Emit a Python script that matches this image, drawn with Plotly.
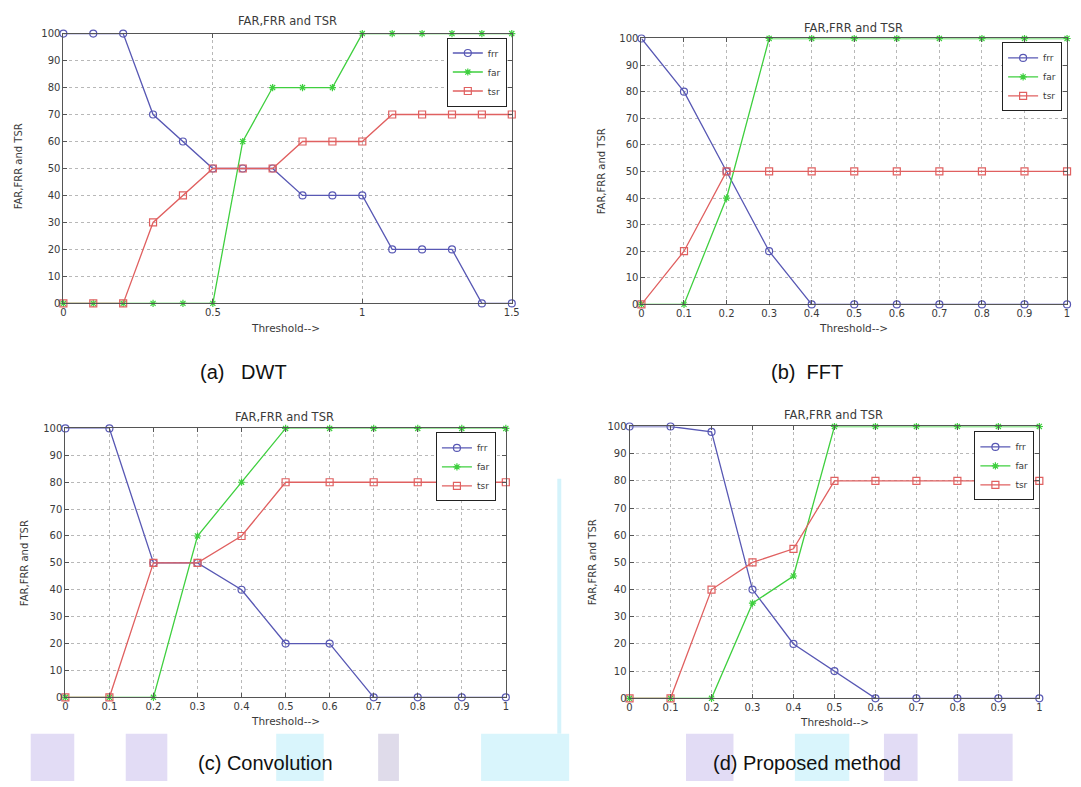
import plotly.graph_objects as go

W, H = 1081, 787

# ---------------- data ----------------
thr_dwt = [0, 0.1, 0.2, 0.3, 0.4, 0.5, 0.6, 0.7, 0.8, 0.9, 1.0, 1.1, 1.2, 1.3, 1.4, 1.5]
dwt_frr = [100, 100, 100, 70, 60, 50, 50, 50, 40, 40, 40, 20, 20, 20, 0, 0]
dwt_far = [0, 0, 0, 0, 0, 0, 60, 80, 80, 80, 100, 100, 100, 100, 100, 100]
dwt_tsr = [0, 0, 0, 30, 40, 50, 50, 50, 60, 60, 60, 70, 70, 70, 70, 70]

thr_unit = [0, 0.1, 0.2, 0.3, 0.4, 0.5, 0.6, 0.7, 0.8, 0.9, 1.0]
fft_frr = [100, 80, 50, 20, 0, 0, 0, 0, 0, 0, 0]
fft_far = [0, 0, 40, 100, 100, 100, 100, 100, 100, 100, 100]
fft_tsr = [0, 20, 50, 50, 50, 50, 50, 50, 50, 50, 50]

conv_frr = [100, 100, 50, 50, 40, 20, 20, 0, 0, 0, 0]
conv_far = [0, 0, 0, 60, 80, 100, 100, 100, 100, 100, 100]
conv_tsr = [0, 0, 50, 50, 60, 80, 80, 80, 80, 80, 80]

prop_frr = [100, 100, 98, 40, 20, 10, 0, 0, 0, 0, 0]
prop_far = [0, 0, 0, 35, 45, 100, 100, 100, 100, 100, 100]
prop_tsr = [0, 0, 40, 50, 55, 80, 80, 80, 80, 80, 80]

xt_dwt = [0, 0.5, 1, 1.5]
xt_dwt_text = ["0", "0.5", "1", "1.5"]
xt_unit = [0, 0.1, 0.2, 0.3, 0.4, 0.5, 0.6, 0.7, 0.8, 0.9, 1]
xt_unit_text = ["0", "0.1", "0.2", "0.3", "0.4", "0.5", "0.6", "0.7", "0.8", "0.9", "1"]
yt = [0, 10, 20, 30, 40, 50, 60, 70, 80, 90, 100]
yt_text = ["0", "10", "20", "30", "40", "50", "60", "70", "80", "90", "100"]

series_names = ["frr", "far", "tsr"]
plot_title = "FAR,FRR and TSR"
y_label = "FAR,FRR and TSR"
x_label = "Threshold-->"
captions = ["(a)   DWT", "(b)  FFT", "(c) Convolution", "(d) Proposed method"]

# ---------------- styling ----------------
BLUE = "#5858b4"
GREEN = "#3fcf3f"
RED = "#e06060"
TXT = "#3a3a3a"
FONT = "DejaVu Sans"

# panel boxes in pixels: left, right, top, bottom
panels = [
    dict(box=(61, 514, 28, 302), x=thr_dwt, ys=(dwt_frr, dwt_far, dwt_tsr), xr=[0, 1.5],
         xt=xt_dwt, xtt=xt_dwt_text, leg=(509, 32), title=(287, 15), ylab=(16, 163),
         xlab=(285, 327), cap=(243, 372)),
    dict(box=(645, 1075, 33, 303), x=thr_unit, ys=(fft_frr, fft_far, fft_tsr), xr=[0, 1],
         xt=xt_unit, xtt=xt_unit_text, leg=(1070, 37), title=(859, 22), ylab=(605, 168),
         xlab=(859, 327), cap=(812, 372)),
    dict(box=(63, 508, 429, 702), x=thr_unit, ys=(conv_frr, conv_far, conv_tsr), xr=[0, 1],
         xt=xt_unit, xtt=xt_unit_text, leg=(498, 433), title=(284, 417), ylab=(22, 566),
         xlab=(285, 726), cap=(265, 769)),
    dict(box=(633, 1047, 427, 703), x=thr_unit, ys=(prop_frr, prop_far, prop_tsr), xr=[0, 1],
         xt=xt_unit, xtt=xt_unit_text, leg=(1042, 432), title=(839, 415), ylab=(595, 565),
         xlab=(840, 727), cap=(812, 769)),
]

fig = go.Figure()
styles = [
    dict(color=BLUE, symbol="circle-open", size=7),
    dict(color=GREEN, symbol="asterisk-open", size=6),
    dict(color=RED, symbol="square-open", size=7),
]

annotations = []
shapes = []

def px(x):
    return x / W

def py(y):
    return 1 - y / H

# faint watermark decoration at the bottom
stripes = [(28, 72, "#e2dcf5"), (124, 166, "#e2dcf5"), (276, 324, "#d9f5fc"),
           (379, 400, "#dfdbea"), (483, 572, "#d9f5fc"), (690, 738, "#e2dcf5"),
           (800, 855, "#d9f5fc"), (890, 924, "#e2dcf5"), (965, 1020, "#e2dcf5")]
for x0, x1, c in stripes:
    shapes.append(dict(type="rect", xref="paper", yref="paper", x0=px(x0), x1=px(x1),
                       y0=0, y1=py(739), fillcolor=c, line_width=0, layer="below"))
shapes.append(dict(type="rect", xref="paper", yref="paper", x0=px(560), x1=px(564),
                   y0=py(739), y1=py(480), fillcolor="#d4f3fb", line_width=0, layer="below"))

for i, p in enumerate(panels):
    n = "" if i == 0 else str(i + 1)
    xa, ya = "x" + n, "y" + n
    leg = "legend" + n
    l, r, t, b = p["box"]
    for name, yv, st in zip(series_names, p["ys"], styles):
        fig.add_trace(go.Scatter(
            x=p["x"], y=yv, name=name, mode="lines+markers", xaxis=xa, yaxis=ya,
            legend=leg, cliponaxis=False, hoverinfo="skip",
            line=dict(color=st["color"], width=1.3),
            marker=dict(symbol=st["symbol"], size=st["size"], color=st["color"],
                        line=dict(color=st["color"], width=1.2)),
        ))
    axis_common = dict(showline=True, linecolor="#555", linewidth=1, mirror="ticks",
                       ticks="inside", ticklen=4, tickcolor="#555",
                       showgrid=True, gridcolor="#b8b8b8", griddash="dot", gridwidth=1,
                       zeroline=False, fixedrange=True,
                       tickfont=dict(family=FONT, size=10, color=TXT))
    fig.layout["xaxis" + n] = dict(axis_common, domain=[px(l), px(r)], range=p["xr"],
                                   anchor=ya, tickvals=p["xt"], ticktext=p["xtt"])
    fig.layout["yaxis" + n] = dict(axis_common, domain=[py(b), py(t)], range=[0, 100],
                                   anchor=xa, tickvals=yt, ticktext=yt_text)
    lx, ly = p["leg"]
    fig.layout[leg] = dict(x=px(lx), y=py(ly), xanchor="right", yanchor="top",
                           xref="paper", yref="paper",
                           bgcolor="white", bordercolor="#222", borderwidth=1,
                           font=dict(family=FONT, size=9, color=TXT),
                           itemwidth=30, tracegroupgap=0)
    tx, ty = p["title"]
    annotations.append(dict(text=plot_title, x=px(tx), y=py(ty), xref="paper", yref="paper",
                            showarrow=False, xanchor="center", yanchor="middle",
                            font=dict(family=FONT, size=11.5, color=TXT)))
    yx, yy = p["ylab"]
    annotations.append(dict(text=y_label, x=px(yx), y=py(yy), xref="paper", yref="paper",
                            showarrow=False, textangle=-90, xanchor="center", yanchor="middle",
                            font=dict(family=FONT, size=10, color=TXT)))
    xx, xy = p["xlab"]
    annotations.append(dict(text=x_label, x=px(xx), y=py(xy), xref="paper", yref="paper",
                            showarrow=False, xanchor="center", yanchor="middle",
                            font=dict(family=FONT, size=10.5, color=TXT)))
    cx, cy = p["cap"]
    annotations.append(dict(text=captions[i], x=px(cx), y=py(cy), xref="paper", yref="paper",
                            showarrow=False, xanchor="center", yanchor="middle",
                            font=dict(family="Liberation Sans", size=20, color="#111")))

fig.update_layout(width=W, height=H, margin=dict(l=0, r=0, t=0, b=0),
                  paper_bgcolor="white", plot_bgcolor="white", hovermode=False,
                  annotations=annotations, shapes=shapes, showlegend=True)

fig.write_html("out.html", config={"displayModeBar": False},
               post_script="document.body.style.margin='0';document.body.style.overflow='hidden';")
